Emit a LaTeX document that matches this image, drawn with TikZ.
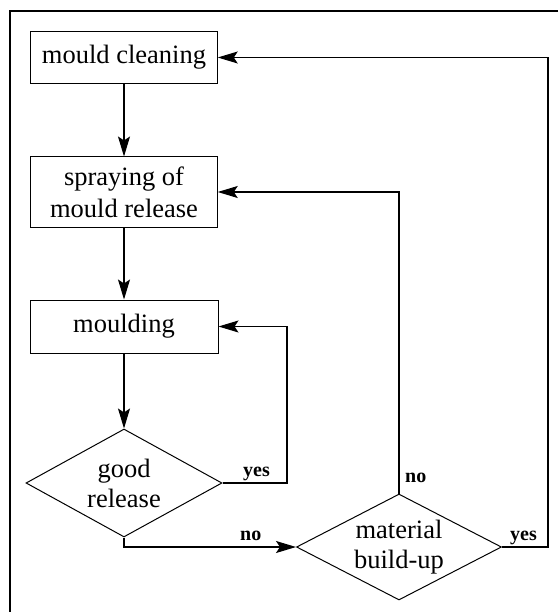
\documentclass[tikz,border=0pt]{standalone}
\usepackage{fontspec}
\setmainfont{Liberation Serif}
\usetikzlibrary{shapes.geometric,arrows.meta}
\tikzset{
  box/.style={draw, line width=1pt, rectangle, inner sep=0pt, align=center,
    font=\fontsize{26.5}{32}\selectfont},
  dec/.style={draw, line width=1pt, diamond, inner sep=0pt, shape aspect=1.8,
    align=center, font=\fontsize{26.5}{30}\selectfont},
  conn/.style={line width=1.1pt, -{Stealth[length=20pt,width=12pt,inset=4pt]}},
  lbl/.style={font=\fontsize{20}{24}\selectfont\bfseries, inner sep=0pt, anchor=base west},
  frame/.style={line width=2.2pt},
}
\begin{document}
\begin{tikzpicture}[x=1pt,y=-1pt]
\useasboundingbox (0,0) rectangle (558,612);
\draw[frame] (558,11) -- (10,11) -- (10,612);

\node[box, minimum width=186.5pt, minimum height=51.5pt] (clean) at (124,57.5) {mould cleaning};
\node[box, minimum width=186.5pt, minimum height=70pt] (spray) at (124,192) {spraying of\\mould release};
\node[box, minimum width=188pt, minimum height=53pt] (mould) at (124,326.5) {moulding};
\node[dec, minimum width=196pt, minimum height=108pt] (good) at (124,483) {good\\release};
\node[dec, minimum width=205pt, minimum height=106pt] (mat) at (399,547) {material\\build-up};

\coordinate (c1) at (287,483);
\coordinate (c2) at (548,547);
\coordinate (c3) at (399,192);

\draw[conn] (clean) -- (spray);
\draw[conn] (spray) -- (mould);
\draw[conn] (mould) -- (good);
\draw[conn] (good.east) -- (c1) |- (mould.east);
\draw[conn] (good.south) |- (mat.west);
\draw[conn] (mat.north) -- (c3) -- (spray.east);
\draw[conn] (mat.east) -- (c2) |- (clean.east);

\node[lbl] (lyes1) at (243,476) {yes};
\node[lbl] (lno1) at (240,540) {no};
\node[lbl] (lno2) at (405,482) {no};
\node[lbl] (lyes2) at (510,540.5) {yes};
\end{tikzpicture}
\end{document}
